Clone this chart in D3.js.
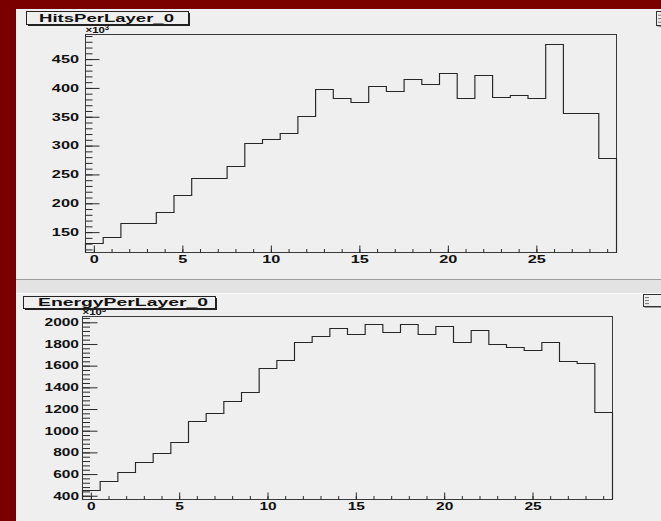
<!DOCTYPE html>
<html>
<head>
<meta charset="utf-8">
<script src="https://cdn.jsdelivr.net/npm/d3@7"></script>
<style>
  body { margin: 0; background: #7a0000; }
  svg { display: block; }
  text { font-family: "Liberation Sans", Arial, Helvetica, sans-serif; font-weight: bold; fill: #111; }
</style>
</head>
<body>
<svg id="canvas" width="661" height="521"></svg>
<script>
// Layer index (bin centres) and per-layer totals, in units of 10^3
const layers = [0, 1, 2, 3, 4, 5, 6, 7, 8, 9, 10, 11, 12, 13, 14,
                15, 16, 17, 18, 19, 20, 21, 22, 23, 24, 25, 26, 27, 28, 29];
const hitsPerLayer = [131, 142, 166, 166, 185, 214, 244, 244, 265, 304,
                      311, 322, 351, 398, 383, 375, 404, 394, 416, 406,
                      426, 383, 422, 385, 387, 383, 476, 357, 357, 279];
const energyPerLayer = [450, 533, 616, 708, 797, 898, 1086, 1166, 1271, 1357,
                        1578, 1652, 1821, 1876, 1945, 1892, 1981, 1910, 1981, 1889,
                        1966, 1815, 1929, 1797, 1772, 1747, 1821, 1640, 1622, 1175];

// Tick labels
const layerTicks = [0, 5, 10, 15, 20, 25];
const hitsTicks = [150, 200, 250, 300, 350, 400, 450];
const energyTicks = [400, 600, 800, 1000, 1200, 1400, 1600, 1800, 2000];

const svg = d3.select("#canvas");
const PANEL = "#efefef";
const SX = 1.55;   // horizontal stretch of the bold canvas font

// Canvas background and the two pads
svg.append("rect").attr("width", 661).attr("height", 521).attr("fill", "#7a0000");
svg.append("rect").attr("x", 16).attr("y", 9).attr("width", 645).attr("height", 270).attr("fill", PANEL);
svg.append("rect").attr("x", 16).attr("y", 279).attr("width", 645).attr("height", 1).attr("fill", "#9c9c9c");
svg.append("rect").attr("x", 16).attr("y", 280).attr("width", 645).attr("height", 13).attr("fill", "#e3e3e3");
svg.append("rect").attr("x", 16).attr("y", 293).attr("width", 645).attr("height", 1).attr("fill", "#fbfbfb");
svg.append("rect").attr("x", 16).attr("y", 294).attr("width", 645).attr("height", 227).attr("fill", PANEL);

function stretched(g, txt, x, y, size, anchor) {
  return g.append("text")
    .attr("transform", `translate(${x},${y}) scale(${SX},1)`)
    .attr("text-anchor", anchor)
    .attr("font-size", size)
    .text(txt);
}

function drawPad(p) {
  const g = svg.append("g");
  const f = p.frame;
  const x = d3.scaleLinear().domain([-0.5, 29.5]).range([f.x0, f.x1]);
  const y = d3.scaleLinear().domain(p.yDomain).range([f.y1, f.y0]);

  // frame
  g.append("rect")
    .attr("x", f.x0 + 0.5).attr("y", f.y0 + 0.5)
    .attr("width", f.x1 - f.x0).attr("height", f.y1 - f.y0)
    .attr("fill", PANEL).attr("stroke", "#3a3a3a").attr("stroke-width", 1);

  // y axis: major + minor ticks drawn inside the frame
  const yMinor = d3.range(Math.ceil(p.yDomain[0] / p.yMinorStep) * p.yMinorStep,
                          p.yDomain[1], p.yMinorStep);
  const yMinorAxis = d3.axisLeft(y).tickValues(yMinor).tickSize(-p.yMinorLen).tickFormat("").tickSizeOuter(0);
  const yMajorAxis = d3.axisLeft(y).tickValues(p.yTicks).tickSize(-p.yMajorLen).tickSizeOuter(0).tickPadding(0);
  g.append("g").attr("transform", `translate(${f.x0 + 0.5},0)`).call(yMinorAxis)
    .call(a => a.select(".domain").remove())
    .call(a => a.selectAll("line").attr("stroke", "#2a2a2a"));
  const ya = g.append("g").attr("transform", `translate(${f.x0 + 0.5},0)`).call(yMajorAxis)
    .call(a => a.select(".domain").remove())
    .call(a => a.selectAll("line").attr("stroke", "#2a2a2a"));
  ya.selectAll("text").remove();
  p.yTicks.forEach(v => stretched(g, String(v), p.yLabelRight, y(v) + 3.8, p.labelSize, "end"));

  // x axis: ticks pointing up from the bottom edge
  const xMinorAxis = d3.axisBottom(x).tickValues(layers).tickSize(-p.xMinorLen).tickFormat("").tickSizeOuter(0);
  const xMajorAxis = d3.axisBottom(x).tickValues(layerTicks).tickSize(-p.xMajorLen).tickSizeOuter(0);
  g.append("g").attr("transform", `translate(0,${f.y1 + 0.5})`).call(xMinorAxis)
    .call(a => a.select(".domain").remove())
    .call(a => a.selectAll("line").attr("stroke", "#2a2a2a"));
  const xa = g.append("g").attr("transform", `translate(0,${f.y1 + 0.5})`).call(xMajorAxis)
    .call(a => a.select(".domain").remove())
    .call(a => a.selectAll("line").attr("stroke", "#2a2a2a"));
  xa.selectAll("text").remove();
  layerTicks.forEach(v => stretched(g, String(v), x(v) + 0.5, p.xLabelBase, p.labelSize, "middle"));

  // histogram outline
  const pts = [[-0.5, p.yDomain[0]]]
    .concat(layers.map((l, i) => [l + 0.5, p.values[i]]))
    .concat([[29.5, p.yDomain[0]]]);
  const line = d3.line()
    .x(d => x(d[0]) + 0.5)
    .y(d => Math.round(y(d[1])) + 0.5)
    .curve(d3.curveStepBefore);
  g.append("path").attr("d", line(pts))
    .attr("fill", "none").attr("stroke", "#262626").attr("stroke-width", 1.15);

  // exponent label
  const ex = g.append("text")
    .attr("transform", `translate(${f.x0 + 0.5},${f.y0 - 1}) scale(1.2,1)`)
    .attr("font-size", 9.5).attr("font-weight", "normal").attr("fill", "#222");
  ex.append("tspan").text("\u00d710");
  ex.append("tspan").attr("font-size", 6.5).attr("dy", -3.5).text("3");

  // title box with shadow
  const t = p.titleBox;
  g.append("rect").attr("x", t.x + 2).attr("y", t.y + 2).attr("width", t.w).attr("height", t.h).attr("fill", "#222");
  g.append("rect").attr("x", t.x + 0.5).attr("y", t.y + 0.5).attr("width", t.w).attr("height", t.h)
    .attr("fill", PANEL).attr("stroke", "#222").attr("stroke-width", 1);
  g.append("text").attr("x", t.tx).attr("y", t.ty)
    .attr("font-size", t.size).attr("textLength", t.tw).attr("lengthAdjust", "spacingAndGlyphs")
    .text(p.title);

  // statistics box at the pad's right edge
  const s = p.statsBox;
  g.append("rect").attr("x", s.x + 1.5).attr("y", s.y + 1.5).attr("width", 40).attr("height", s.h).attr("fill", "#444");
  g.append("rect").attr("x", s.x + 0.5).attr("y", s.y + 0.5).attr("width", 40).attr("height", s.h)
    .attr("fill", PANEL).attr("stroke", "#333");
  [0.3, 0.55, 0.8].forEach(fr => {
    g.append("line").attr("x1", s.x + 2).attr("x2", s.x + 6)
      .attr("y1", s.y + s.h * fr).attr("y2", s.y + s.h * fr).attr("stroke", "#777");
  });
}

drawPad({
  title: "HitsPerLayer_0",
  values: hitsPerLayer,
  yDomain: [115.5, 493.5],
  yTicks: hitsTicks, yMinorStep: 10,
  frame: { x0: 85, x1: 616, y0: 34, y1: 252 },
  yMajorLen: 14, yMinorLen: 7, xMajorLen: 7, xMinorLen: 3.5,
  yLabelRight: 79, xLabelBase: 263, labelSize: 10.5,
  titleBox: { x: 26, y: 11, w: 162, h: 13, tx: 39, ty: 22, tw: 135, size: 11.5 },
  statsBox: { x: 656, y: 11, h: 14 }
});

drawPad({
  title: "EnergyPerLayer_0",
  values: energyPerLayer,
  yDomain: [370, 2058],
  yTicks: energyTicks, yMinorStep: 40,
  frame: { x0: 82, x1: 612, y0: 316, y1: 499 },
  yMajorLen: 15, yMinorLen: 7.5, xMajorLen: 7, xMinorLen: 3.5,
  yLabelRight: 79, xLabelBase: 510, labelSize: 10,
  titleBox: { x: 23, y: 296, w: 192, h: 12, tx: 38, ty: 305.5, tw: 170, size: 10.5 },
  statsBox: { x: 643, y: 294, h: 12 }
});
</script>
</body>
</html>
